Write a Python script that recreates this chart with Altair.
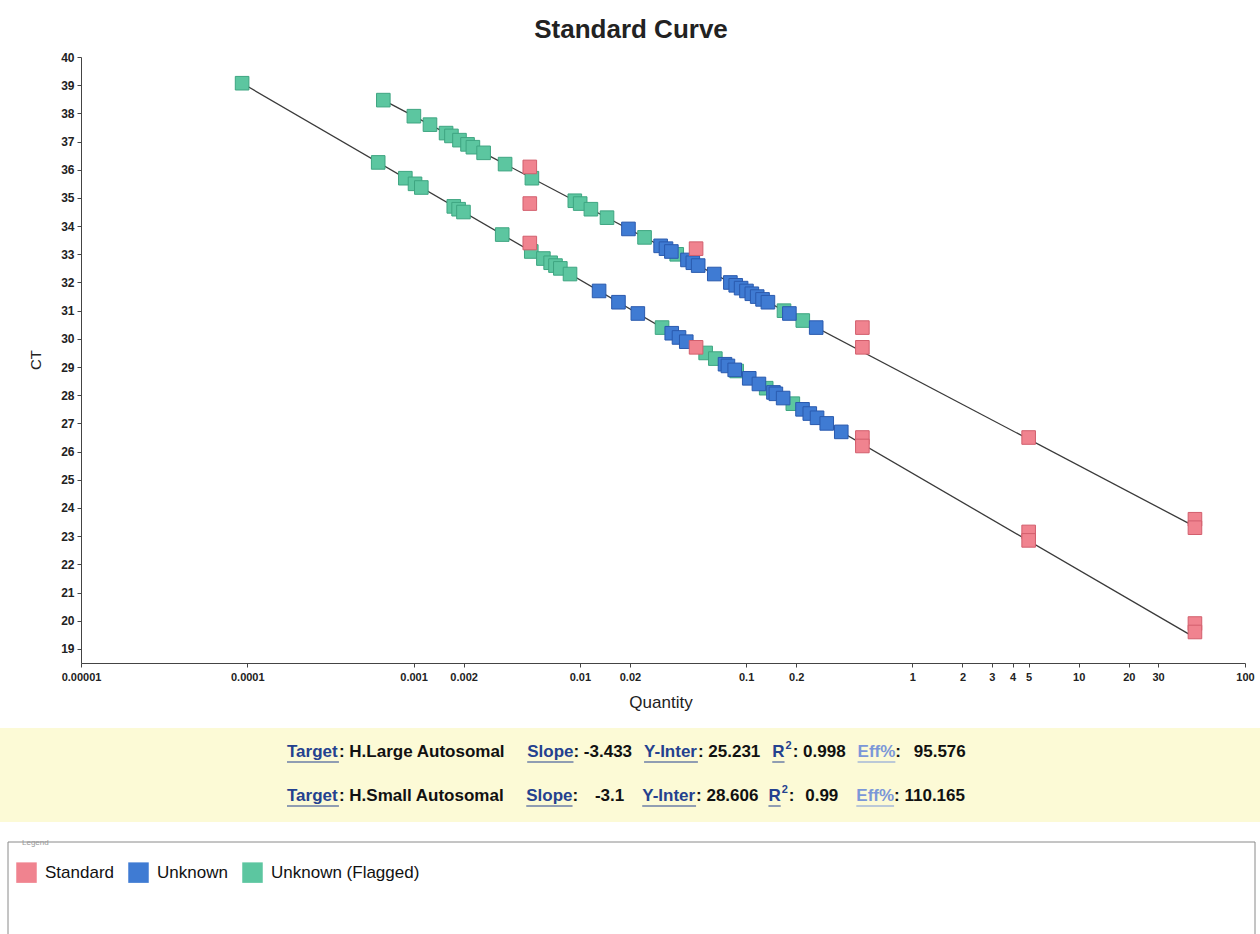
import math
import altair as alt
import pandas as pd

# ---------------- curve statistics per target ----------------
targets = ["H.Large Autosomal", "H.Small Autosomal"]
slopes = [-3.433, -3.1]
intercepts = [25.231, 28.606]
r_squared = [0.998, 0.99]
efficiency = [95.576, 110.165]

tasks = ["Standard", "Unknown", "Unknown (Flagged)"]
task_fill = ["#F0838F", "#3F7BD3", "#5CC6A0"]
task_edge = ["#D25F6D", "#2A5AAE", "#3EA581"]

# ---------------- standards (quantity, CT) ----------------
std_large_qty = [50, 50, 5, 5, 0.5, 0.5, 0.05, 0.005]
std_large_ct = [19.9, 19.6, 23.15, 22.85, 26.5, 26.2, 29.7, 33.4]
std_small_qty = [50, 50, 5, 0.5, 0.5, 0.05, 0.005, 0.005]
std_small_ct = [23.6, 23.3, 26.5, 30.4, 29.7, 33.2, 36.1, 34.8]

# ---------------- unknown samples (CT) ----------------
unk_large_ct = [31.7, 31.3, 30.9, 30.2, 30.05, 29.9, 29.1, 29.04, 28.9, 28.6,
                28.4, 28.1, 28.05, 27.9, 27.5, 27.35, 27.2, 27.0, 26.7]
flag_large_ct = [39.07, 36.26, 35.7, 35.5, 35.37, 34.7, 34.6, 34.5, 33.7, 33.1,
                 32.85, 32.7, 32.6, 32.5, 32.3, 30.4, 29.5, 29.3, 28.86, 28.25, 27.7]
unk_small_ct = [33.9, 33.3, 33.2, 33.1, 32.8, 32.7, 32.6, 32.3, 32.0, 31.9,
                31.8, 31.7, 31.6, 31.5, 31.4, 31.3, 30.9, 30.4]
flag_small_ct = [38.47, 37.9, 37.6, 37.3, 37.2, 37.05, 36.9, 36.8, 36.6, 36.2,
                 35.7, 34.9, 34.8, 34.6, 34.3, 33.6, 33.0, 31.0, 30.65]

x_ticks = [0.00001, 0.0001, 0.001, 0.002, 0.01, 0.02, 0.1, 0.2,
           1, 2, 3, 4, 5, 10, 20, 30, 100]
y_ticks = list(range(19, 41))


def qty_from_curve(ct, slope, icpt):
    return 10 ** ((ct - icpt) / slope)


rows = []
groups = zip(targets, slopes, intercepts,
             [std_large_qty, std_small_qty], [std_large_ct, std_small_ct],
             [unk_large_ct, unk_small_ct], [flag_large_ct, flag_small_ct])
for tgt, m, b, sq, sc, uc, fc in groups:
    for q, c in zip(sq, sc):
        rows.append({"Target": tgt, "Task": "Standard", "Quantity": q, "CT": c})
    for c in uc:
        rows.append({"Target": tgt, "Task": "Unknown",
                     "Quantity": qty_from_curve(c, m, b), "CT": c})
    for c in fc:
        rows.append({"Target": tgt, "Task": "Unknown (Flagged)",
                     "Quantity": qty_from_curve(c, m, b), "CT": c})
points = pd.DataFrame(rows)

# regression line of each target across the span of its samples
fit_rows = []
for tgt, m, b in zip(targets, slopes, intercepts):
    sub = points[points["Target"] == tgt]
    for q in (sub["Quantity"].min(), sub["Quantity"].max()):
        fit_rows.append({"Target": tgt, "Quantity": q, "CT": b + m * math.log10(q)})
fit = pd.DataFrame(fit_rows)

# ---------------- layout ----------------
PLOT_L, PLOT_T, PLOT_W, PLOT_H = 81, 57, 1164, 606
TOTAL_W, TOTAL_H = 1260, 934
FONT = "Liberation Sans"
LINK = "#24418F"
LINK_PALE = "#7B97D8"

x_enc = alt.X("Quantity:Q",
              scale=alt.Scale(type="log", domain=[0.00001, 100], nice=False),
              axis=alt.Axis(values=x_ticks, format="~g", title=None, grid=False,
                            labelOverlap=False, labelFlush=False, labelBound=False,
                            labelFont=FONT, labelFontSize=11, labelFontWeight="bold",
                            labelColor="#222", labelPadding=4, tickSize=4,
                            tickColor="#444", domainColor="#444"))
y_enc = alt.Y("CT:Q",
              scale=alt.Scale(domain=[18.5, 40], nice=False, zero=False),
              axis=alt.Axis(values=y_ticks, title=None, grid=False,
                            labelFont=FONT, labelFontSize=12, labelFontWeight="bold",
                            labelColor="#222", labelPadding=3, tickSize=4,
                            tickColor="#444", domainColor="#444"))
color_enc = alt.Color("Task:N",
                      scale=alt.Scale(domain=tasks, range=task_fill),
                      legend=alt.Legend(orient="none", legendX=16 - PLOT_L,
                                        legendY=862 - PLOT_T, direction="horizontal",
                                        title=None, symbolType="square",
                                        symbolSize=420, symbolStrokeWidth=0,
                                        labelFont=FONT, labelFontSize=17,
                                        labelColor="#111", labelOffset=8,
                                        columnPadding=14, padding=0))


def px(ax):
    return alt.value(ax - PLOT_L)


def py(ay):
    return alt.value(ay - PLOT_T)


def text_layer(txt, ax, ay, size, color="#111", weight="normal",
               align="left", angle=0):
    return alt.Chart(pd.DataFrame({"t": [txt]})).mark_text(
        align=align, baseline="middle", fontSize=size, fontWeight=weight,
        color=color, font=FONT, angle=angle
    ).encode(x=px(ax), y=py(ay), text="t:N")


def box(x0, y0, x1, y1, fill, stroke=None):
    kw = {"fill": fill}
    if stroke:
        kw.update(stroke=stroke, strokeWidth=1)
    return alt.Chart(pd.DataFrame({"k": [0]})).mark_rect(**kw).encode(
        x=px(x0), x2=px(x1), y=py(y0), y2=py(y1))


def rule(x0, x1, y, color):
    return alt.Chart(pd.DataFrame({"k": [0]})).mark_rule(
        color=color, strokeWidth=1).encode(x=px(x0), x2=px(x1), y=py(y))


# Arial / Liberation Sans Bold advance widths (1/1000 em)
BOLD_W = {" ": 278, "%": 889, "-": 333, ".": 278, ":": 333,
          "A": 722, "E": 667, "H": 722, "I": 278, "L": 611, "R": 722,
          "S": 667, "T": 611, "Y": 667,
          "a": 556, "e": 556, "f": 333, "g": 611, "l": 278, "m": 889,
          "n": 611, "o": 611, "p": 611, "r": 389, "s": 556, "t": 333, "u": 611}


def text_width(s, size):
    return sum(BOLD_W.get(ch, 556) for ch in s) * size / 1000.0


def stats_line(tgt, m, b, r2, eff, y, gaps, value_pads, x0=287, size=17):
    """One line of curve statistics, laid out left to right from x0.

    gaps[i] is the free space in front of the i-th link label and
    value_pads[i] extra space between its colon and its value."""
    parts = [("Target", f"{tgt}"), ("Slope", f"{m}"), ("Y-Inter", f"{b}"),
             ("R", f"{r2}"), ("Eff%", f"{eff}")]
    out = []
    x = x0
    for (label, value), gap, pad in zip(parts, gaps, value_pads):
        x += gap
        color = LINK_PALE if label == "Eff%" else LINK
        w = text_width(label, size)
        out.append(text_layer(label, x, y, size, color, "bold"))
        out.append(rule(x, x + w, y + 10, color))
        x += w
        if label == "R":
            out.append(text_layer("2", x + 1, y - 6, 11, LINK, "bold"))
            x += text_width("2", 11) + 2
        out.append(text_layer(":", x, y, size, "#111", "bold"))
        x += text_width(": ", size) + pad
        out.append(text_layer(value, x, y, size, "#111", "bold"))
        x += text_width(value, size)
    return out


layers = [
    box(0, 728, TOTAL_W, 822, "#FCFAD6"),
    box(8, 842, 1255, 960, "white", "#8A8A8A"),
]

layers.append(alt.Chart(fit).mark_line(color="#3A3A3A", strokeWidth=1.3).encode(
    x=x_enc, y=y_enc, detail="Target:N"))

for task, edge in zip(["Unknown (Flagged)", "Unknown", "Standard"],
                      [task_edge[2], task_edge[1], task_edge[0]]):
    layers.append(
        alt.Chart(points).transform_filter(alt.datum.Task == task)
        .mark_square(size=185, opacity=1, stroke=edge, strokeWidth=1)
        .encode(x=x_enc, y=y_enc, color=color_enc)
    )

layers += [
    text_layer("Standard Curve", 631, 30, 26, "#222", "bold", "center"),
    text_layer("CT", 36, 360, 15, "#222", "normal", "center", 270),
    text_layer("Quantity", 661, 703, 17, "#222", "normal", "center"),
    text_layer("Legend", 22, 843, 8, "#999"),
]

layers += stats_line(targets[0], slopes[0], intercepts[0], r_squared[0],
                     efficiency[0], 752, [0, 22, 12, 12, 12], [0, 0, 0, 0, 8])
layers += stats_line(targets[1], slopes[1], intercepts[1], r_squared[1],
                     efficiency[1], 796, [0, 22, 18, 10, 18], [0, 12, 0, 6, 0])

chart = alt.layer(*layers).properties(
    width=PLOT_W, height=PLOT_H,
    autosize=alt.AutoSizeParams(type="none"),
    padding={"left": PLOT_L, "top": PLOT_T,
             "right": TOTAL_W - PLOT_L - PLOT_W,
             "bottom": TOTAL_H - PLOT_T - PLOT_H},
    background="white",
).configure_view(stroke=None)

chart.save("out.html", embed_options={"renderer": "svg", "actions": False})
